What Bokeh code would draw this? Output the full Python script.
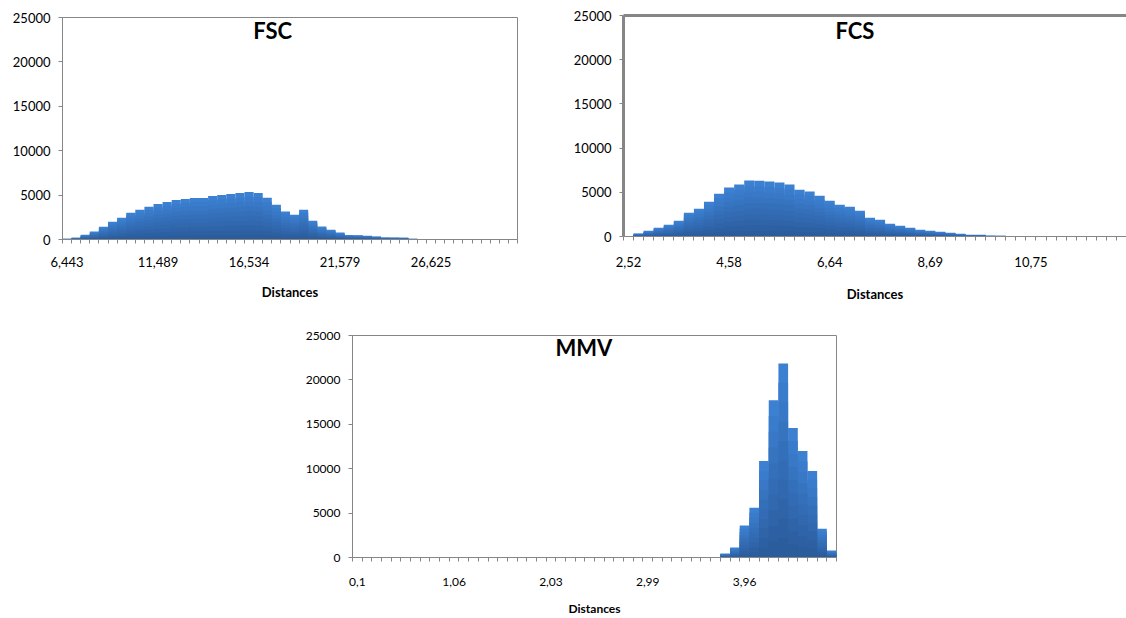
from bokeh.plotting import figure
from bokeh.models import Range1d, FixedTicker, LinearAxis, Label, Spacer
from bokeh.layouts import row, column
from bokeh.embed import file_html
from bokeh.resources import INLINE

# ---------------- data ----------------
fsc_counts = [80, 210, 540, 890, 1440, 2010, 2440, 3000, 3340, 3680,
              4010, 4230, 4450, 4570, 4680, 4680, 4900, 5010, 5120, 5230,
              5350, 5240, 4690, 3920, 3150, 2800, 3360, 2120, 1450, 1110,
              780, 510, 490, 430, 330, 230, 220, 210, 80, 70,
              60, 60, 50, 50, 50, 40, 40, 40, 30, 30]
fsc_tick_labels = ["6,443", "11,489", "16,534", "21,579", "26,625"]

fcs_counts = [60, 330, 640, 990, 1330, 1780, 2690, 3140, 3940, 4850,
              5530, 5870, 6330, 6320, 6210, 6100, 5870, 5300, 5080, 4620,
              4050, 3600, 3370, 2920, 2120, 1890, 1440, 1210, 990, 760,
              640, 530, 420, 300, 190, 190, 90, 80, 70, 60,
              50, 50, 50, 40, 40, 40, 30, 30, 30, 30]
fcs_tick_labels = ["2,52", "4,58", "6,64", "8,69", "10,75"]

mmv_counts = [0, 0, 0, 0, 0, 0, 0, 0, 0, 0,
              0, 0, 0, 0, 0, 0, 0, 0, 0, 0,
              0, 0, 0, 0, 0, 0, 0, 0, 0, 0,
              0, 0, 0, 0, 0, 0, 0, 0, 450, 1120,
              3590, 5600, 10870, 17710, 21860, 14570, 12000, 9750, 3250, 790]
mmv_tick_labels = ["0,1", "1,06", "2,03", "2,99", "3,96"]

y_ticks = [0, 5000, 10000, 15000, 20000, 25000]
label_every = 10

FONT = "Lato"
GREY = "#868686"
LIGHT = (60, 128, 210)
DARK = (43, 92, 156)
N_LAYERS = 10


def shade(t):
    c = [round(LIGHT[i] + (DARK[i] - LIGHT[i]) * t) for i in range(3)]
    return "#%02x%02x%02x" % tuple(c)


def make_chart(title, counts, tick_labels, width, height, bl, br, bt, bb,
               title_xy, font_px, tick_standoff, label_standoff,
               heavy_frame=False):
    n = len(counts)
    p = figure(width=width, height=height, output_backend="svg",
               toolbar_location=None, x_range=Range1d(-0.5, n - 0.5),
               y_range=Range1d(0, 25000),
               min_border_left=bl, min_border_right=br,
               min_border_top=bt, min_border_bottom=bb)
    p.xgrid.visible = False
    p.ygrid.visible = False
    p.background_fill_color = "white"
    p.border_fill_color = "white"

    xs = list(range(n))
    # vertical gradient inside each bar: stacked layers of decreasing height
    for k in range(N_LAYERS):
        frac = 1 - k / N_LAYERS
        p.vbar(x=xs, width=1.0, bottom=0, top=[c * frac for c in counts],
               fill_color=shade(k / (N_LAYERS - 1)), line_color=None)

    major = [i * label_every for i in range(len(tick_labels))]
    xt = FixedTicker(ticks=major, minor_ticks=[i - 0.5 for i in range(n + 1)])
    xa = p.xaxis[0]
    xa.ticker = xt
    xa.major_label_overrides = {m: lab for m, lab in zip(major, tick_labels)}
    xa.major_tick_line_color = None
    xa.major_tick_out = 0
    xa.major_tick_in = 0
    xa.minor_tick_out = 4
    xa.minor_tick_in = 0
    xa.minor_tick_line_color = GREY
    xa.axis_line_color = GREY
    xa.major_label_text_font = FONT
    xa.major_label_text_font_size = f"{font_px}px"
    xa.major_label_text_color = "black"
    xa.major_label_standoff = tick_standoff
    xa.axis_label = "Distances"
    xa.axis_label_text_font = FONT
    xa.axis_label_text_font_style = "bold"
    xa.axis_label_text_font_size = f"{font_px}px"
    xa.axis_label_text_color = "black"
    xa.axis_label_standoff = label_standoff

    ya = p.yaxis[0]
    ya.ticker = FixedTicker(ticks=y_ticks)
    ya.minor_tick_line_color = None
    ya.major_tick_out = 4
    ya.major_tick_in = 0
    ya.major_tick_line_color = GREY
    ya.axis_line_color = GREY
    ya.major_label_text_font = FONT
    ya.major_label_text_font_size = f"{font_px}px"
    ya.major_label_text_color = "black"
    ya.major_label_standoff = 8

    if heavy_frame:
        p.outline_line_color = None
        ya.axis_line_width = 3
        top = LinearAxis(ticker=FixedTicker(ticks=[]), axis_line_color=GREY,
                         axis_line_width=3, major_label_text_font_size="0px",
                         major_tick_line_color=None, minor_tick_line_color=None)
        p.add_layout(top, "above")
    else:
        p.outline_line_color = GREY
        p.outline_line_width = 1

    p.add_layout(Label(x=title_xy[0], y=title_xy[1], text=title,
                       text_font=FONT, text_font_style="bold",
                       text_font_size="22px", text_align="center",
                       text_baseline="middle", text_color="black"))
    return p


p1 = make_chart("FSC", fsc_counts, fsc_tick_labels, 560, 305,
                62, 43, 17, 66, (22.6, 23550), 13, 13, 14)
p2 = make_chart("FCS", fcs_counts, fcs_tick_labels, 566, 305,
                63, 0, 15, 69, (22.5, 23250), 13, 16, 16, heavy_frame=True)
p3 = make_chart("MMV", mmv_counts, mmv_tick_labels, 576, 313,
                52, 40, 30, 60, (23.4, 23650), 12, 16, 12)

layout = column(row(column(p1), column(p2)),
                row(Spacer(width=300, height=313), column(p3)))

open("out.html", "w").write(file_html(layout, INLINE))
